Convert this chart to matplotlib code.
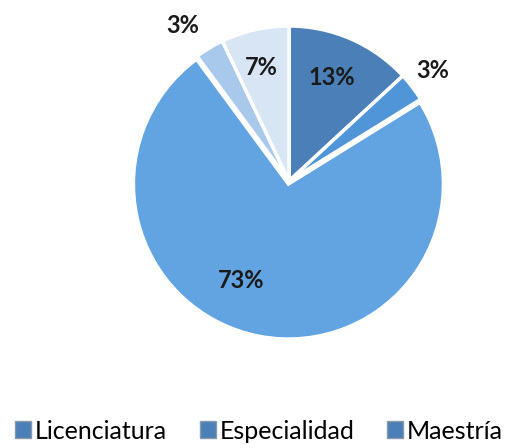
import matplotlib
matplotlib.use("Agg")
import matplotlib.pyplot as plt
import numpy as np
from matplotlib.patches import Patch, Wedge

categories = ["Licenciatura", "Especialidad", "Maestría", "Doctorado", "Otro"]
values = [13, 3, 73, 3, 7]
colors = ["#4a7fb8", "#4f95d8", "#62a3e2", "#a8c8ec", "#d8e5f5"]
legend_count = 3

plt.rcParams['font.family'] = ['Lato', 'DejaVu Sans']

fig = plt.figure(figsize=(5.18, 4.48), dpi=100)
R = 155
cx, cy = 289, 181
ax = fig.add_axes([(cx - R) / 518, (448 - cy - R) / 448, 2 * R / 518, 2 * R / 448])

explode = [0, 0, 0.02, 0, 0]
wedges, _ = ax.pie(values, colors=colors, startangle=90, counterclock=False,
                   explode=explode, radius=1,
                   wedgeprops=dict(edgecolor="white", linewidth=2.5))
for w in wedges:
    w.set_zorder(1)
for w in wedges:
    c = Wedge(w.center, w.r, w.theta1, w.theta2,
              fill=False, edgecolor="#8a8a8a", linewidth=1.4, zorder=0)
    ax.add_patch(c)

dists = [0.74, 1.18, 0.70, 1.23, 0.77]
ang_off = [1.5, 1, -15, 3, 0.5]
for w, v, d, o in zip(wedges, values, dists, ang_off):
    th = np.deg2rad((w.theta1 + w.theta2) / 2 + o)
    ax.text(d * np.cos(th), d * np.sin(th) - 0.015, f"{v}%", ha="center", va="center",
            fontsize=17, fontweight="bold", color="#1a1a1a")

ax.set_xlim(-1, 1)
ax.set_ylim(-1, 1)
ax.set_aspect("equal")
ax.axis("off")

handles = [Patch(facecolor=colors[0], edgecolor="#8a9aaa") for _ in categories[:legend_count]]
fig.legend(handles, categories[:legend_count], loc="center", bbox_to_anchor=(0.5, 1 - 431 / 448),
           ncol=3, frameon=False, fontsize=18, handlelength=0.65, handleheight=0.65,
           handletextpad=0.15, columnspacing=1.3)

fig.savefig("out.png", dpi=100)
